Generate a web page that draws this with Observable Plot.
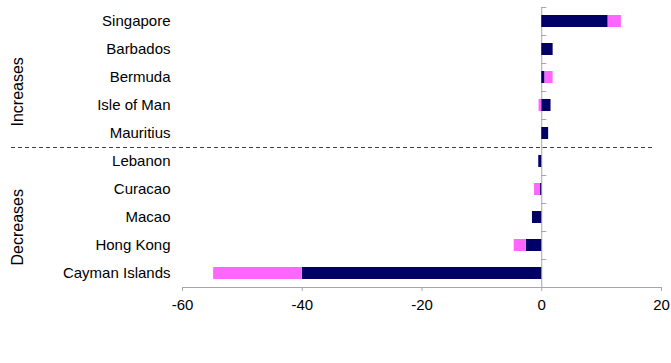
<!DOCTYPE html>
<html><head><meta charset="utf-8">
<script src="https://cdn.jsdelivr.net/npm/d3@7"></script>
<script src="https://cdn.jsdelivr.net/npm/@observablehq/plot@0.6"></script>
<style>body{margin:0;background:#fff} svg{display:block}</style>
</head><body><div id="chart"></div>
<script>
const countries = ["Singapore","Barbados","Bermuda","Isle of Man","Mauritius","Lebanon","Curacao","Macao","Hong Kong","Cayman Islands"];
const series1 = [11.1, 1.9, 0.55, 1.55, 1.15, -0.5, -0.2, -1.55, -2.6, -40.0];
const series2 = [2.2, 0, 1.35, -0.45, 0, 0, -1.0, 0, -2.0, -14.8];
const seriesNames = ["Series 1","Series 2"];
const seriesColors = ["#000066","#ff66ff"];
const groupLabels = ["Increases","Decreases"];
const groupAnchors = ["Bermuda","Macao"];
const separatorBefore = "Lebanon";
const xTicks = [-60,-40,-20,0,20];

const rows = countries.flatMap((c,i)=>[
  {country:c, series:seriesNames[0], value:series1[i]},
  {country:c, series:seriesNames[1], value:series2[i]}
]);

const base = {
  width:671, height:363, marginTop:7, marginBottom:76, marginLeft:182, marginRight:10,
  style:{fontFamily:"'Liberation Sans', Arial, sans-serif", fontSize:"15px", color:"#000", background:"#fff"},
  x:{domain:[-60,20], label:null},
  y:{domain:countries, paddingInner:0.58, paddingOuter:0.29, label:null},
  color:{domain:seriesNames, range:seriesColors}
};
const bars = Plot.barX(rows, Plot.stackX({x:"value", y:"country", fill:"series", order:seriesNames}));
const probe = Plot.plot({...base, marks:[bars]});
const half = probe.scale("y").step/2;
const gray = "#a6a6a6";

const chart = Plot.plot({
  ...base,
  marks:[
    Plot.ruleX([0], {stroke:gray}),
    Plot.ruleY(countries, {y:d=>d, x1:0, x2:0, insetRight:-5, dy:-half, stroke:gray}),
    Plot.ruleY([countries[countries.length-1]], {y:d=>d, dy:half, stroke:gray}),
    bars,
    Plot.ruleY([separatorBefore], {y:d=>d, dy:-half, insetLeft:-171, insetRight:8, stroke:"#404040", strokeDasharray:"4,3"}),
    Plot.axisY({tickSize:0, tickPadding:12, label:null}),
    Plot.axisX({ticks:xTicks, tickSize:4, tickPadding:8, stroke:gray, fill:"#000", label:null, tickFormat:d=>String(d)}),
    Plot.text([groupLabels[0]], {text:d=>d, y:()=>groupAnchors[0], frameAnchor:"left", dx:-165, dy:49, rotate:-90, fontSize:16}),
    Plot.text([groupLabels[1]], {text:d=>d, y:()=>groupAnchors[1], frameAnchor:"left", dx:-165, dy:48, rotate:-90, fontSize:16})
  ]
});
document.getElementById("chart").append(chart);
</script></body></html>
